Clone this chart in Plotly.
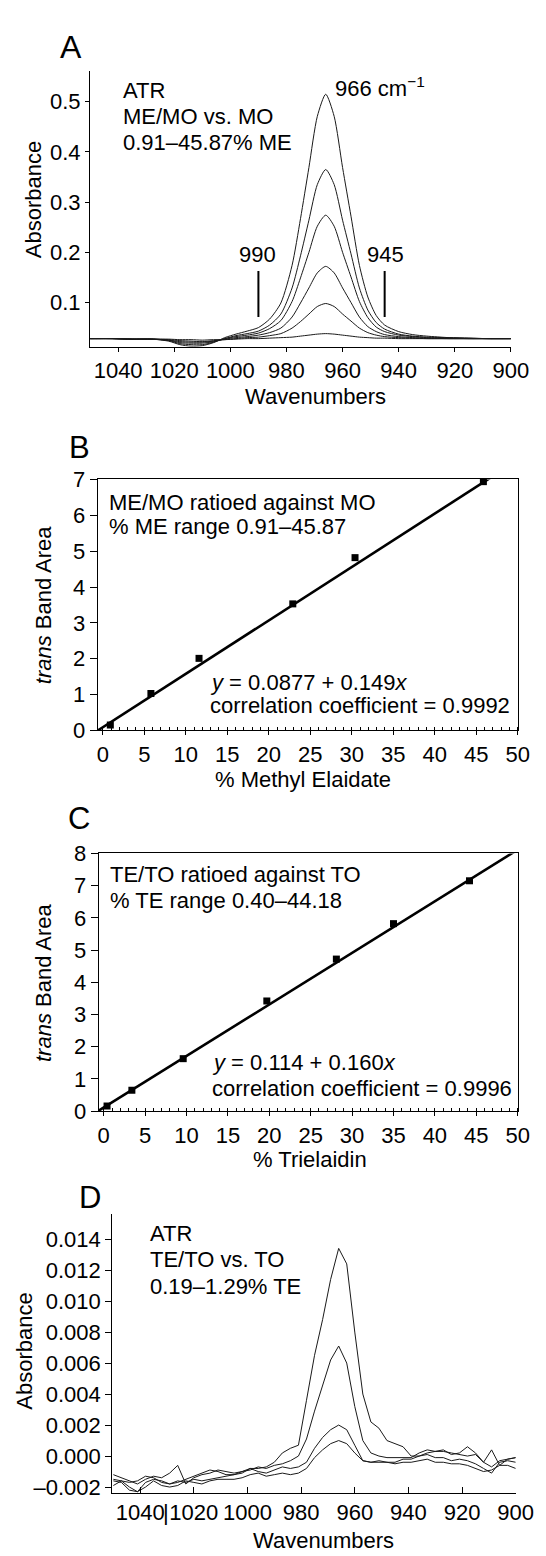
import plotly.graph_objects as go

FONT = "Liberation Sans, Arial, Helvetica, sans-serif"
W, H = 546, 1556

# ---------------- Panel A: ATR spectra ME/MO vs MO ----------------
wn_a = [1050, 1042, 1035, 1028, 1022, 1018, 1014, 1010, 1006, 1002, 998, 994, 990, 986,
        982, 978, 975, 972, 969, 966, 963, 960, 957, 954, 951, 948, 945, 940, 935, 930,
        922, 915, 908, 900]
a_45 = [0.028, 0.028, 0.027, 0.027, 0.023, 0.016, 0.013, 0.014, 0.020, 0.030, 0.037, 0.043,
        0.050, 0.067, 0.099, 0.174, 0.267, 0.369, 0.471, 0.515, 0.471, 0.369, 0.272, 0.174,
        0.111, 0.074, 0.055, 0.042, 0.036, 0.033, 0.030, 0.029, 0.028, 0.028]
a_30 = [0.028, 0.028, 0.027, 0.027, 0.024, 0.018, 0.016, 0.016, 0.021, 0.028, 0.034, 0.038,
        0.043, 0.055, 0.077, 0.129, 0.193, 0.264, 0.335, 0.365, 0.335, 0.264, 0.197, 0.129,
        0.085, 0.060, 0.047, 0.037, 0.033, 0.031, 0.030, 0.029, 0.028, 0.028]
a_23 = [0.028, 0.028, 0.027, 0.027, 0.025, 0.020, 0.019, 0.019, 0.022, 0.028, 0.032, 0.035,
        0.039, 0.048, 0.064, 0.102, 0.149, 0.200, 0.252, 0.274, 0.252, 0.200, 0.151, 0.102,
        0.070, 0.051, 0.042, 0.035, 0.032, 0.030, 0.029, 0.028, 0.028, 0.028]
a_12 = [0.028, 0.028, 0.027, 0.027, 0.025, 0.022, 0.021, 0.021, 0.023, 0.027, 0.030, 0.032,
        0.035, 0.040, 0.049, 0.071, 0.099, 0.129, 0.159, 0.172, 0.159, 0.129, 0.100, 0.071,
        0.052, 0.042, 0.036, 0.032, 0.030, 0.029, 0.028, 0.028, 0.028, 0.028]
a_6 = [0.028, 0.028, 0.027, 0.027, 0.026, 0.024, 0.023, 0.022, 0.024, 0.026, 0.028, 0.030,
       0.031, 0.034, 0.038, 0.049, 0.062, 0.077, 0.092, 0.098, 0.092, 0.077, 0.063, 0.049,
       0.040, 0.035, 0.032, 0.030, 0.029, 0.028, 0.028, 0.028, 0.028, 0.028]
a_1 = [0.028, 0.028, 0.027, 0.027, 0.027, 0.026, 0.026, 0.025, 0.026, 0.026, 0.027, 0.028,
       0.028, 0.029, 0.030, 0.031, 0.033, 0.035, 0.037, 0.038, 0.037, 0.035, 0.033, 0.031,
       0.030, 0.029, 0.029, 0.028, 0.028, 0.028, 0.028, 0.028, 0.028, 0.028]
spectra_a = [a_45, a_30, a_23, a_12, a_6, a_1]
marker_wn = [990, 945]
xticks_spec = [1040, 1020, 1000, 980, 960, 940, 920, 900]
yticks_a = [0.1, 0.2, 0.3, 0.4, 0.5]

# ---------------- Panel B: methyl elaidate calibration ----------------
me_pct = [0.91, 5.8, 11.6, 22.9, 30.4, 45.87]
me_area = [0.15, 1.03, 2.01, 3.53, 4.82, 6.94]
me_fit = (0.0877, 0.149)

# ---------------- Panel C: trielaidin calibration ----------------
te_pct = [0.40, 3.4, 9.6, 19.7, 28.1, 35.0, 44.18]
te_area = [0.16, 0.65, 1.63, 3.42, 4.72, 5.82, 7.15]
te_fit = (0.114, 0.160)

# ---------------- Panel D: ATR spectra TE/TO vs TO (low level) ----------------
wn_d = [1050, 1047, 1044, 1041, 1038, 1035, 1032, 1029, 1026, 1023, 1020, 1017, 1014, 1011,
        1008, 1005, 1002, 999, 996, 993, 990, 987, 984, 981, 978, 975, 972, 969, 966, 963,
        960, 957, 954, 951, 948, 945, 942, 939, 936, 933, 930, 927, 924, 921, 918, 915, 912,
        909, 906, 903, 900]
d_129 = [-0.0012, -0.0014, -0.0016, -0.0018, -0.0015, -0.0013, -0.0014, -0.0011, -0.0006,
         -0.0018, -0.0014, -0.0012, -0.0011, -0.0009, -0.0010, -0.0011, -0.0010, -0.0008,
         -0.0008, -0.0007, -0.0004, 0.0002, 0.0005, 0.0007, 0.0036, 0.0065, 0.0088, 0.0114,
         0.0134, 0.0124, 0.0080, 0.0040, 0.0022, 0.0018, 0.0010, 0.0008, 0.0006, 0.0000,
         0.0000, 0.0002, 0.0003, 0.0004, 0.0001, 0.0002, 0.0006, 0.0002, -0.0004, 0.0004,
         -0.0006, -0.0002, -0.0001]
d_070 = [-0.0016, -0.0017, -0.0022, -0.0023, -0.0017, -0.0015, -0.0016, -0.0018, -0.0017,
         -0.0015, -0.0013, -0.0011, -0.0009, -0.0010, -0.0012, -0.0012, -0.0010, -0.0009,
         -0.0007, -0.0008, -0.0006, -0.0005, -0.0003, 0.0000, 0.0011, 0.0029, 0.0045, 0.0062,
         0.0071, 0.0060, 0.0032, 0.0010, 0.0002, 0.0000, -0.0001, -0.0001, -0.0001, -0.0001,
         0.0002, 0.0004, 0.0003, 0.0003, 0.0002, 0.0001, 0.0000, 0.0001, -0.0004, -0.0007,
         -0.0003, -0.0002, -0.0001]
d_035 = [-0.0015, -0.0016, -0.0017, -0.0016, -0.0013, -0.0014, -0.0017, -0.0018, -0.0016,
         -0.0017, -0.0015, -0.0016, -0.0015, -0.0014, -0.0013, -0.0012, -0.0011, -0.0008,
         -0.0010, -0.0011, -0.0009, -0.0007, -0.0008, -0.0007, -0.0004, 0.0005, 0.0012, 0.0017,
         0.0020, 0.0017, 0.0007, -0.0003, -0.0004, -0.0003, -0.0004, -0.0004, -0.0002, -0.0002,
         0.0000, 0.0001, -0.0001, -0.0001, -0.0003, -0.0002, -0.0003, -0.0005, -0.0008, -0.0011,
         -0.0004, -0.0003, -0.0004]
d_019 = [-0.0019, -0.0016, -0.0020, -0.0023, -0.0020, -0.0016, -0.0019, -0.0020, -0.0019,
         -0.0016, -0.0017, -0.0018, -0.0016, -0.0015, -0.0015, -0.0015, -0.0014, -0.0012,
         -0.0011, -0.0013, -0.0012, -0.0011, -0.0012, -0.0011, -0.0008, -0.0001, 0.0004, 0.0008,
         0.0010, 0.0008, 0.0002, -0.0003, -0.0004, -0.0004, -0.0004, -0.0005, -0.0004, -0.0004,
         -0.0003, -0.0002, -0.0004, -0.0004, -0.0005, -0.0005, -0.0006, -0.0008, -0.0010, -0.0009,
         -0.0006, -0.0006, -0.0008]
spectra_d = [d_129, d_070, d_035, d_019]
yticks_d = [-0.002, 0.0, 0.002, 0.004, 0.006, 0.008, 0.010, 0.012, 0.014]
yticktext_d = ["–0.002", "0.000", "0.002", "0.004", "0.006", "0.008", "0.010", "0.012", "0.014"]


def px(x):
    return x / W


def py(y):
    return 1 - y / H


fig = go.Figure()

for s in spectra_a:
    fig.add_trace(go.Scatter(x=wn_a, y=s, mode="lines", xaxis="x", yaxis="y",
                             line=dict(color="#1a1a1a", width=1, shape="spline", smoothing=0.7),
                             hoverinfo="skip", showlegend=False))

for xs, ys, fit, ax in [(me_pct, me_area, me_fit, "2"), (te_pct, te_area, te_fit, "3")]:
    fx = [-1, 50]
    fy = [fit[0] + fit[1] * v for v in fx]
    fig.add_trace(go.Scatter(x=fx, y=fy, mode="lines", xaxis="x" + ax, yaxis="y" + ax,
                             line=dict(color="black", width=2.6), showlegend=False,
                             hoverinfo="skip"))
    fig.add_trace(go.Scatter(x=xs, y=ys, mode="markers", xaxis="x" + ax, yaxis="y" + ax,
                             marker=dict(symbol="square", size=7, color="black"),
                             showlegend=False, cliponaxis=False))

for s in spectra_d:
    fig.add_trace(go.Scatter(x=wn_d, y=s, mode="lines", xaxis="x4", yaxis="y4",
                             line=dict(color="#1a1a1a", width=1), hoverinfo="skip",
                             showlegend=False))

TS = 22
tf = dict(family=FONT, size=TS, color="black")
common = dict(showgrid=False, zeroline=False, showline=True, linecolor="black",
              linewidth=1.2, tickcolor="black", tickwidth=1.2, tickfont=tf)

fig.update_layout(
    width=W, height=H, margin=dict(l=0, r=0, t=0, b=0),
    paper_bgcolor="white", plot_bgcolor="white", showlegend=False,
    font=dict(family=FONT, size=TS, color="black"),
    # Panel A
    xaxis=dict(domain=[px(84), px(520)], range=[1050, 900], anchor="y",
               tickvals=xticks_spec, ticks="outside", ticklen=4, **common),
    yaxis=dict(domain=[py(332), py(52)], range=[0.012, 0.561], anchor="x",
               tickvals=yticks_a, ticktext=[f"{v:.1f}" for v in yticks_a],
               ticks="outside", ticklen=4, **common),
    # Panel B
    xaxis2=dict(domain=[px(92), px(527)], range=[-0.6, 50], anchor="y2",
                tickvals=list(range(0, 51, 5)), ticks="outside", ticklen=4, mirror=True,
                minor=dict(dtick=1, ticks="inside", ticklen=3, tickcolor="black", showgrid=False),
                **common),
    yaxis2=dict(domain=[py(722), py(467)], range=[0, 7], anchor="x2", dtick=1,
                ticks="outside", ticklen=7, mirror=True, **common),
    # Panel C
    xaxis3=dict(domain=[px(93), px(527)], range=[-0.6, 50], anchor="y3",
                tickvals=list(range(0, 51, 5)), ticks="outside", ticklen=4, mirror=True,
                minor=dict(dtick=1, ticks="inside", ticklen=3, tickcolor="black", showgrid=False),
                **common),
    yaxis3=dict(domain=[py(1109), py(847)], range=[0, 8], anchor="x3", dtick=1,
                ticks="outside", ticklen=7, mirror=True, **common),
    # Panel D
    xaxis4=dict(domain=[px(107), px(525)], range=[1050.4, 900], anchor="y4",
                tickvals=xticks_spec, ticks="inside", ticklen=6, **common),
    yaxis4=dict(domain=[py(1497), py(1213)], range=[-0.00238, 0.01565], anchor="x4",
                tickvals=yticks_d, ticktext=yticktext_d, ticks="outside", ticklen=6, **common),
)

# marker bars at 990 and 945 in panel A
for wv in marker_wn:
    fig.add_shape(type="line", xref="x", yref="y", x0=wv, x1=wv, y0=0.071, y1=0.163,
                  line=dict(color="black", width=2))

ann = []


def txt(x, y, t, size=TS, xanchor="left", angle=0):
    ann.append(dict(x=px(x), y=py(y), xref="paper", yref="paper", text=t, showarrow=False,
                    xanchor=xanchor, yanchor="middle", textangle=angle,
                    font=dict(family=FONT, size=size, color="black")))


# Panel A texts
txt(64, 27, "A", size=32, xanchor="center")
txt(116, 72, "ATR")
txt(116, 98, "ME/MO vs. MO")
txt(116, 125, "0.91–45.87% ME")
txt(336, 68, "966 cm<sup>−1</sup>")
txt(257, 238, "990", xanchor="center")
txt(390, 238, "945", xanchor="center")
txt(25, 183, "Absorbance", xanchor="center", angle=-90)
txt(318, 383, "Wavenumbers", xanchor="center")

# Panel B texts
txt(73, 434, "B", size=31, xanchor="center")
txt(102, 490, "ME/MO ratioed against MO")
txt(102, 515, "% ME range 0.91–45.87")
txt(206, 673, "<i>y</i> = 0.0877 + 0.149<i>x</i>")
txt(206, 697, "correlation coefficient = 0.9992")
txt(36, 594, "<i>trans</i> Band Area", xanchor="center", angle=-90)
txt(305, 772, "% Methyl Elaidate", xanchor="center")

# Panel C texts
txt(73, 812, "C", size=31, xanchor="center")
txt(103, 868, "TE/TO ratioed against TO")
txt(103, 895, "% TE range 0.40–44.18")
txt(208, 1060, "<i>y</i> = 0.114 + 0.160<i>x</i>")
txt(208, 1086, "correlation coefficient = 0.9996")
txt(36, 978, "<i>trans</i> Band Area", xanchor="center", angle=-90)
txt(312, 1158, "% Trielaidin", xanchor="center")

# Panel D texts
txt(84, 1197, "D", size=31, xanchor="center")
txt(144, 1233, "ATR")
txt(144, 1260, "TE/TO vs. TO")
txt(144, 1287, "0.19–1.29% TE")
txt(16, 1353, "Absorbance", xanchor="center", angle=-90)
txt(326, 1545, "Wavenumbers", xanchor="center")
txt(163, 1517, "|", xanchor="center")

fig.update_layout(annotations=ann)
fig.write_html("out.html")
